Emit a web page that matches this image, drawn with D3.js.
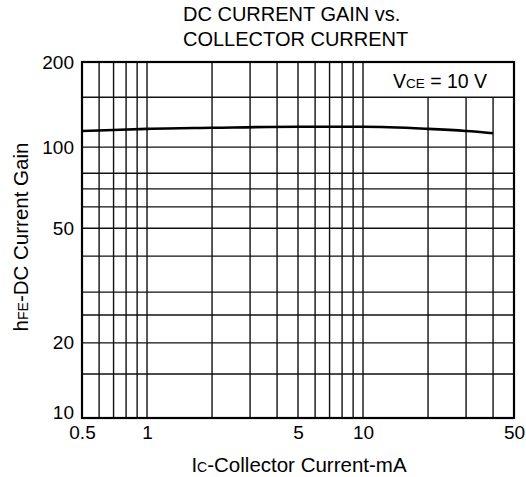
<!DOCTYPE html>
<html><head><meta charset="utf-8">
<script src="https://cdn.jsdelivr.net/npm/d3@7"></script>
<style>
html,body{margin:0;padding:0;background:#fff;}
text{font-family:"Liberation Sans",Arial,sans-serif;fill:#000;}
</style></head>
<body><svg id="c" width="526" height="477"></svg>
<script>
// Data
const collectorCurrent = [0.5, 0.7, 1, 2, 5, 10, 20, 30, 40];   // mA
const dcGain = [114, 115, 116, 117, 118, 118, 116, 114, 112];
const xTickValues = [0.5, 1, 5, 10, 50];
const yTickValues = [10, 20, 50, 100, 200];
const xGridFull = [0.6, 0.7, 0.8, 0.9, 1, 2, 3, 4, 5, 6, 7, 8, 9, 10];
const xGridShort = [20, 30, 40];
const yGrid = [15, 20, 25, 30, 40, 50, 60, 70, 80, 100, 150];
const titleLines = ["DC CURRENT GAIN vs.", "COLLECTOR CURRENT"];

const W = 526, H = 477;
const m = {top: 62, left: 82, right: 12, bottom: 59};
const w = W - m.left - m.right, h = H - m.top - m.bottom;
const svg = d3.select("#c");
const g = svg.append("g").attr("transform", `translate(${m.left},${m.top})`);

const x = d3.scaleLog().domain([0.5, 50]).range([0, w]);
const y = d3.scaleLog().domain([10, 20, 50, 100, 200])
  .range([h, h * 0.789, h * 0.467, h * 0.239, 0]);

// grid
g.selectAll(".vf").data(xGridFull).join("line")
  .attr("x1", d => x(d)).attr("x2", d => x(d)).attr("y1", 0).attr("y2", h)
  .attr("stroke", "#111").attr("stroke-width", 1.4);
g.selectAll(".vs").data(xGridShort).join("line")
  .attr("x1", d => x(d)).attr("x2", d => x(d)).attr("y1", y(150)).attr("y2", h)
  .attr("stroke", "#111").attr("stroke-width", 1.4);
g.selectAll(".hg").data(yGrid).join("line")
  .attr("x1", 0).attr("x2", w).attr("y1", d => y(d)).attr("y2", d => y(d))
  .attr("stroke", "#111").attr("stroke-width", 1.4);

// frame
g.append("rect").attr("x", 0).attr("y", 0).attr("width", w).attr("height", h)
  .attr("fill", "none").attr("stroke", "#000").attr("stroke-width", 2.2);

// curve
const line = d3.line().x(d => x(d[0])).y(d => y(d[1])).curve(d3.curveMonotoneX);
g.append("path").datum(collectorCurrent.map((c, i) => [c, dcGain[i]]))
  .attr("d", line).attr("fill", "none").attr("stroke", "#000").attr("stroke-width", 2.6);

// axes (labels only)
const xAxis = d3.axisBottom(x).tickValues(xTickValues).tickSize(0).tickPadding(8)
  .tickFormat(d => String(d));
const gx = g.append("g").attr("transform", `translate(0,${h})`).call(xAxis);
gx.select(".domain").remove();
gx.selectAll("text").attr("font-size", 19).attr("font-family", "Liberation Sans, Arial, sans-serif");

const yAxis = d3.axisLeft(y).tickValues(yTickValues).tickSize(0).tickPadding(8)
  .tickFormat(d => String(d));
const gy = g.append("g").call(yAxis);
gy.select(".domain").remove();
gy.selectAll("text").attr("font-size", 19).attr("font-family", "Liberation Sans, Arial, sans-serif")
  .attr("dy", d => d === 10 ? "0em" : "0.32em");

// title
svg.selectAll(".title").data(titleLines).join("text")
  .attr("x", 183).attr("y", (d, i) => 21 + i * 25)
  .attr("font-size", 20).text(d => d);

// x axis title
const xt = svg.append("text").attr("x", 299).attr("y", 472).attr("text-anchor", "middle").attr("font-size", 20.5);
xt.append("tspan").text("I");
xt.append("tspan").attr("font-size", 14).text("C");
xt.append("tspan").text("-Collector Current-mA");

// y axis title
const yt = svg.append("text").attr("transform", "translate(28,237) rotate(-90)")
  .attr("text-anchor", "middle").attr("font-size", 20.5);
yt.append("tspan").text("h");
yt.append("tspan").attr("font-size", 14).text("FE");
yt.append("tspan").text("-DC Current Gain");

// condition label
const vt = svg.append("text").attr("x", 440).attr("y", 88).attr("text-anchor", "middle").attr("font-size", 19.5);
vt.append("tspan").text("V");
vt.append("tspan").attr("font-size", 13.5).text("CE");
vt.append("tspan").text(" = 10 V");
</script></body></html>
